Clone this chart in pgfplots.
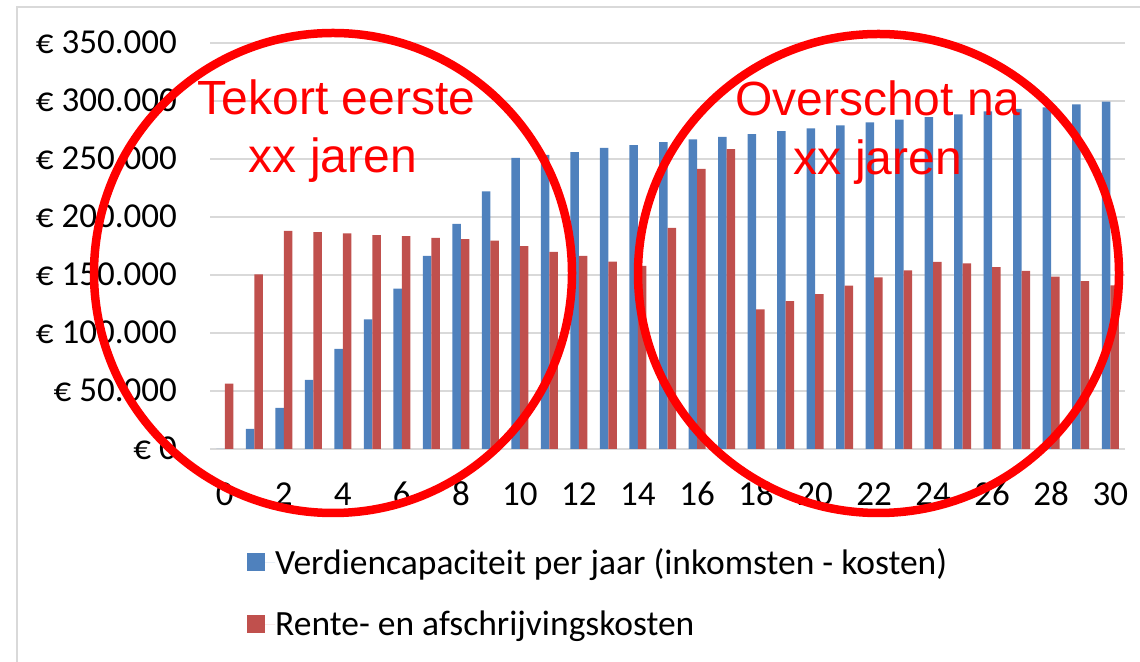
\documentclass[border=0pt]{standalone}
\usepackage{pgfplots}
\pgfplotsset{compat=1.18}
\usepackage{fontspec}
\setmainfont{Carlito}
\newfontfamily\annfont{Liberation Sans}
\definecolor{exblue}{HTML}{4F81BD}
\definecolor{exred}{HTML}{C0504D}
\definecolor{gridgray}{HTML}{D9D9D9}
\definecolor{ann}{HTML}{FF0000}
\begin{document}
\begin{tikzpicture}
\begin{axis}[
  at={(210pt,212pt)}, anchor=south west,
  scale only axis, width=915pt, height=406pt,
  xmin=-0.5, xmax=30.5, ymin=0, ymax=350000,
  ybar=0pt, bar width=8.5pt,
  axis line style={draw=none},
  major tick length=0pt,
  ymajorgrids, grid style={line width=2.2pt, gridgray},
  xtick={0,2,...,30},
  xticklabels={0,2,4,6,8,10,12,14,16,18,20,22,24,26,28,30},
  ytick={0,50000,100000,150000,200000,250000,300000,350000},
  yticklabels={€ 0,€ 50.000,€ 100.000,€ 150.000,€ 200.000,€ 250.000,€ 300.000,€ 350.000},
  scaled y ticks=false,
  ticklabel style={font=\fontsize{35}{40}\selectfont, text=black, inner sep=0pt,
    text height=22pt, text depth=0pt},
  yticklabel shift=33pt,
  xticklabel shift=34pt,
  legend image code/.code={\fill[#1] (0pt,-9pt) rectangle (18pt,9pt); \path (0pt,0pt) -- (28pt,0pt);},
  legend cell align=left,
  legend style={at={(0.0404,-0.245)}, anchor=north west, draw=none, fill=none,
    inner sep=0pt, row sep=35pt,
    font=\fontsize{35.5}{40}\selectfont,
    nodes={inner sep=0pt}},
]
\addplot[fill=exblue, draw=none] coordinates {
(0,0) (1,17300) (2,35500) (3,59600) (4,86400) (5,111800) (6,138200) (7,166500)
(8,194000) (9,222000) (10,251000) (11,253500) (12,256000) (13,259500) (14,262000)
(15,264500) (16,267000) (17,269000) (18,271500) (19,274000) (20,276500) (21,279000)
(22,281500) (23,284000) (24,286000) (25,288500) (26,291000) (27,293200) (28,294500)
(29,297000) (30,299400)};
\addplot[fill=exred, draw=none] coordinates {
(0,56300) (1,150600) (2,188000) (3,187000) (4,185800) (5,184400) (6,183500) (7,182000)
(8,181000) (9,179700) (10,174800) (11,170000) (12,166500) (13,161500) (14,157800)
(15,190700) (16,241500) (17,258500) (18,120300) (19,127500) (20,133600) (21,140800)
(22,148000) (23,154000) (24,161300) (25,160100) (26,156700) (27,153500) (28,148600)
(29,144800) (30,141000)};
\legend{Verdiencapaciteit per jaar (inkomsten - kosten), Rente- en afschrijvingskosten}
\end{axis}
\draw[gridgray, line width=2pt] (17pt,654pt) rectangle (1160pt,-40pt);
\node[anchor=base, text=ann, font=\annfont\fontsize{48}{50}\selectfont, inner sep=0pt] at (336.5pt,546pt) {Tekort eerste};
\node[anchor=base, text=ann, font=\annfont\fontsize{48}{50}\selectfont, inner sep=0pt] at (333pt,488pt) {xx jaren};
\node[anchor=base, text=ann, font=\annfont\fontsize{48}{50}\selectfont, inner sep=0pt] at (878pt,545pt) {Overschot na};
\node[anchor=base, text=ann, font=\annfont\fontsize{48}{50}\selectfont, inner sep=0pt] at (878pt,486pt) {xx jaren};
\draw[ann, line width=8.5pt] (333pt,388pt) ellipse [x radius=239pt, y radius=240pt];
\draw[ann, line width=8.5pt] (878.5pt,387.5pt) ellipse [x radius=240.5pt, y radius=239.5pt];
\pgfresetboundingbox
\path[use as bounding box] (0pt,0pt) rectangle (1140pt,661pt);
\end{tikzpicture}
\end{document}
